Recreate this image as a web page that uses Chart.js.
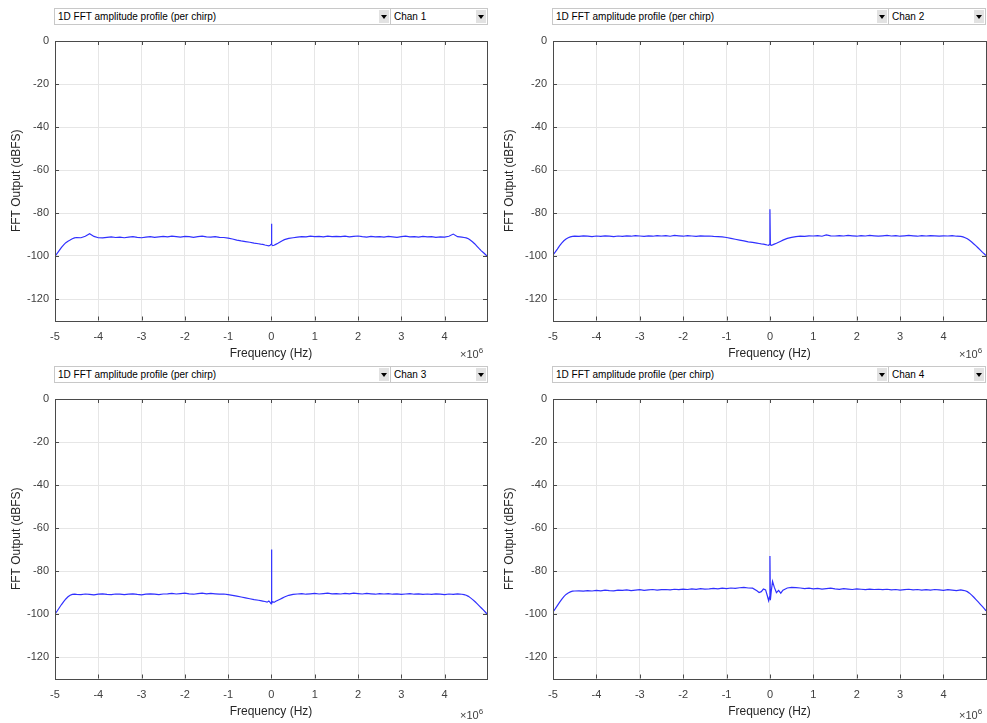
<!DOCTYPE html>
<html>
<head>
<meta charset="utf-8">
<script src="https://cdn.jsdelivr.net/npm/chart.js@4.4.1/dist/chart.umd.min.js"></script>
<style>
  body { margin: 0; background: #fff; font-family: "Liberation Sans", Arial, sans-serif; }
  #page { position: relative; width: 987px; height: 723px; overflow: hidden; }
  canvas { position: absolute; }
  .hdr { position: absolute; width: 434px; height: 17px; font-size: 10px; color: #000; }
  .sel { position: absolute; top: 0; height: 17px; border: 1px solid #c8c8c8; background: #fff;
         box-sizing: border-box; line-height: 15px; padding-left: 3px; white-space: nowrap; }
  .btn { position: absolute; top: 1px; right: 1px; width: 10px; height: 13px; background: #e2e2e2; }
  .btn:after { content: ""; position: absolute; left: 2px; top: 5px; border-left: 3px solid transparent;
               border-right: 3px solid transparent; border-top: 4px solid #000; }
  .exp { position: absolute; font-size: 11px; color: #404040; }
  .exp sup { font-size: 8px; }
</style>
</head>
<body>
<div id="page"></div>
<script>
// frequency bins, in units of 10^6 Hz
const freq = [
  -5.00, -4.95, -4.90, -4.85, -4.80, -4.75, -4.70, -4.65, -4.60, -4.55, -4.50,
  -4.40, -4.30, -4.20, -4.10, -4.00, -3.90, -3.80, -3.70, -3.60, -3.50,
  -3.40, -3.30, -3.20, -3.10, -3.00, -2.90, -2.80, -2.70, -2.60, -2.50,
  -2.40, -2.30, -2.20, -2.10, -2.00, -1.90, -1.80, -1.70, -1.60, -1.50,
  -1.40, -1.30, -1.20, -1.10, -1.00, -0.90, -0.80, -0.70, -0.60, -0.50,
  -0.40, -0.30, -0.25, -0.20, -0.15, -0.10, -0.06, -0.03, -0.01, 0.00,
  0.01, 0.03, 0.06, 0.10, 0.15, 0.20, 0.25, 0.30, 0.40, 0.50,
  0.60, 0.70, 0.80, 0.90, 1.00, 1.10, 1.20, 1.30, 1.40, 1.50,
  1.60, 1.70, 1.80, 1.90, 2.00, 2.10, 2.20, 2.30, 2.40, 2.50,
  2.60, 2.70, 2.80, 2.90, 3.00, 3.10, 3.20, 3.30, 3.40, 3.50,
  3.60, 3.70, 3.80, 3.90, 4.00, 4.10, 4.20, 4.30, 4.40,
  4.45, 4.50, 4.55, 4.60, 4.65, 4.70, 4.75, 4.80, 4.85, 4.90, 4.95, 4.98
];

// FFT output (dBFS) per channel
const chan1 = [
  -100.0, -98.8, -97.4, -96.0, -94.8, -93.8, -93.1, -92.6, -92.0, -91.6, -91.4,
  -91.5, -90.8, -89.6, -90.9, -91.5, -91.6, -91.3, -91.1, -91.4, -91.2,
  -91.5, -91.2, -91.0, -91.3, -91.5, -91.2, -91.0, -91.3, -91.1, -90.9,
  -91.1, -90.8, -91.0, -91.2, -90.9, -91.0, -91.3, -91.0, -90.8, -91.1,
  -91.2, -91.0, -91.3, -91.4, -91.7, -92.1, -92.6, -93.0, -93.3, -93.6,
  -94.0, -94.3, -94.5, -94.6, -94.9, -95.1, -95.3, -95.0, -94.6, -85.0,
  -94.7, -95.2, -95.0, -94.6, -94.1, -93.5, -92.9, -92.4, -91.8, -91.5,
  -91.2, -91.0, -91.1, -90.8, -91.0, -90.9, -91.1, -90.8, -91.0, -90.9,
  -91.0, -90.8, -91.1, -90.9, -90.7, -91.0, -91.2, -90.9, -91.1, -91.0,
  -91.2, -90.9, -91.1, -91.3, -91.0, -90.8, -91.1, -91.0, -91.2, -90.9,
  -91.1, -91.0, -91.3, -91.1, -91.2, -90.8, -89.8, -91.0, -91.2,
  -91.4, -91.6, -92.0, -92.7, -93.5, -94.4, -95.5, -96.6, -97.6, -98.5, -99.4, -100.0
];
const chan2 = [
  -99.5, -98.2, -96.8, -95.3, -94.0, -92.9, -92.1, -91.5, -91.1, -90.9, -90.8,
  -90.9, -90.6, -90.8, -91.0, -90.7, -90.9, -90.6, -90.8, -91.0, -90.7,
  -90.9, -90.6, -90.8, -90.5, -90.7, -90.9, -90.6, -90.8, -90.5, -90.7,
  -90.5, -90.8, -90.4, -90.6, -90.8, -90.5, -90.7, -90.9, -90.6, -90.8,
  -90.7, -90.9, -91.0, -91.1, -91.4, -91.8, -92.2, -92.6, -93.0, -93.4,
  -93.7, -94.0, -94.2, -94.4, -94.5, -94.7, -94.9, -95.0, -94.6, -78.3,
  -94.8, -95.0, -94.8, -94.5, -94.1, -93.6, -93.1, -92.6, -91.8, -91.3,
  -91.0, -90.8, -90.9, -90.6, -90.7, -90.5, -90.8, -90.2, -90.6, -90.7,
  -90.5, -90.7, -90.4, -90.6, -90.8, -90.5, -90.7, -90.4, -90.6, -90.8,
  -90.6, -90.4, -90.7, -90.5, -90.8, -90.6, -90.4, -90.6, -90.8, -90.5,
  -90.7, -90.5, -90.6, -90.8, -90.6, -90.7, -90.5, -90.8, -90.9,
  -91.1, -91.5, -92.0, -92.7, -93.5, -94.4, -95.3, -96.3, -97.3, -98.3, -99.2, -99.8
];
const chan3 = [
  -100.0, -98.6, -97.1, -95.6, -94.2, -93.0, -92.0, -91.3, -90.9, -90.8, -90.9,
  -91.0, -90.7, -90.9, -91.1, -90.8, -90.6, -90.9, -91.0, -90.7, -90.8,
  -91.0, -90.8, -90.6, -90.9, -91.1, -90.8, -90.6, -90.8, -91.0, -90.7,
  -90.6, -90.4, -90.7, -90.5, -90.3, -90.6, -90.8, -90.5, -90.3, -90.6,
  -90.4, -90.6, -90.8, -90.7, -91.0, -91.3, -91.7, -92.1, -92.5, -92.9,
  -93.3, -93.6, -93.8, -94.0, -94.2, -94.5, -94.0, -94.6, -95.2, -70.0,
  -95.0, -94.3, -94.6, -94.1, -93.6, -93.1, -92.6, -92.1, -91.3, -90.9,
  -90.7, -90.5, -90.8, -90.6, -90.4, -90.7, -90.5, -90.3, -90.6, -90.5,
  -90.7, -90.4, -90.6, -90.3, -90.5, -90.7, -90.4, -90.6, -90.8, -90.5,
  -90.7, -90.5, -90.8, -90.6, -90.9, -90.7, -90.5, -90.8, -90.6, -90.9,
  -90.7, -90.9, -90.6, -90.8, -91.0, -90.7, -90.9, -90.6, -90.8,
  -91.0, -91.3, -91.8, -92.5, -93.3, -94.2, -95.2, -96.2, -97.2, -98.2, -99.3, -100.0
];
const chan4 = [
  -99.0, -97.6, -96.1, -94.6, -93.2, -91.9, -90.9, -90.2, -89.7, -89.4, -89.3,
  -89.2, -89.4, -89.1, -89.3, -89.0, -89.2, -88.9, -89.1, -89.2, -88.9,
  -89.0, -88.8, -89.1, -88.9, -88.7, -89.0, -88.8, -88.6, -88.9, -88.7,
  -88.6, -88.8, -88.5, -88.7, -88.4, -88.6, -88.3, -88.5, -88.2, -88.4,
  -88.3, -88.1, -88.3, -88.0, -88.2, -87.9, -88.1, -87.8, -87.6, -87.9,
  -88.0, -89.2, -90.0, -89.6, -88.4, -88.8, -91.5, -93.8, -92.0, -73.0,
  -93.6, -89.5, -84.8, -87.5, -90.1, -89.0, -90.3, -88.9, -87.9, -87.6,
  -87.7, -87.9, -88.2, -88.0, -88.3, -88.1, -88.4, -88.2, -88.0, -88.3,
  -88.5, -88.2, -88.4, -88.6, -88.3, -88.5, -88.7, -88.4, -88.6, -88.5,
  -88.7, -88.5, -88.8, -88.6, -88.9, -88.7, -88.5, -88.8, -88.6, -88.9,
  -88.7, -88.9, -88.6, -88.8, -89.0, -88.7, -88.9, -89.1, -88.8,
  -89.0, -89.2, -89.6, -90.3, -91.2, -92.2, -93.3, -94.4, -95.5, -96.6, -97.7, -98.5
];

const xTicks = [-5, -4, -3, -2, -1, 0, 1, 2, 3, 4];
const yTicks = [-120, -100, -80, -60, -40, -20, 0];
const chanNames = ['Chan 1', 'Chan 2', 'Chan 3', 'Chan 4'];
const viewName = '1D FFT amplitude profile (per chirp)';

const axisCol = '#4a4a4a';
const gridCol = '#e6e6e6';
const lineCol = '#3030ff';

// MATLAB-like box with inward ticks on all four sides
const boxPlugin = {
  id: 'box',
  afterDatasetsDraw(chart) {
    const { ctx, chartArea: a, scales } = chart;
    ctx.save();
    ctx.strokeStyle = axisCol;
    ctx.lineWidth = 1;
    ctx.beginPath();
    xTicks.forEach(v => {
      const p = Math.round(scales.x.getPixelForValue(v)) + 0.5;
      ctx.moveTo(p, a.bottom); ctx.lineTo(p, a.bottom - 4);
      ctx.moveTo(p, a.top); ctx.lineTo(p, a.top + 4);
    });
    yTicks.forEach(v => {
      const p = Math.round(scales.y.getPixelForValue(v)) + 0.5;
      ctx.moveTo(a.left, p); ctx.lineTo(a.left + 4, p);
      ctx.moveTo(a.right, p); ctx.lineTo(a.right - 4, p);
    });
    ctx.stroke();
    ctx.strokeRect(Math.round(a.left) + 0.5, Math.round(a.top) + 0.5,
                   Math.round(a.right - a.left), Math.round(a.bottom - a.top));
    ctx.restore();
  }
};

const panels = [
  { data: chan1, left: 0,   top: 0,   w: 493, h: 362, pad: { left: 0, top: 41, right: 6, bottom: 0 }, yW: 55, xH: 41.5, ttlPad: 1 },
  { data: chan2, left: 493, top: 0,   w: 494, h: 362, pad: { left: 0, top: 41, right: 1, bottom: 0 }, yW: 60, xH: 41.5, ttlPad: 1 },
  { data: chan3, left: 0,   top: 362, w: 493, h: 361, pad: { left: 0, top: 37, right: 6, bottom: 0 }, yW: 55, xH: 44.5, ttlPad: 4 },
  { data: chan4, left: 493, top: 362, w: 494, h: 361, pad: { left: 0, top: 37, right: 1, bottom: 0 }, yW: 60, xH: 44.5, ttlPad: 4 }
];

const page = document.getElementById('page');

panels.forEach((p, i) => {
  const cv = document.createElement('canvas');
  cv.width = p.w; cv.height = p.h;
  cv.style.left = p.left + 'px'; cv.style.top = p.top + 'px';
  page.appendChild(cv);

  // header dropdowns
  const plotLeft = p.left + p.yW;
  const hdr = document.createElement('div');
  hdr.className = 'hdr';
  hdr.style.left = (plotLeft - 1) + 'px';
  hdr.style.top = (p.top + p.pad.top - 33) + 'px';
  hdr.innerHTML =
    '<div class="sel" style="left:0;width:337px">' + viewName + '<div class="btn"></div></div>' +
    '<div class="sel" style="left:336px;width:98px">' + chanNames[i] + '<div class="btn"></div></div>';
  page.appendChild(hdr);

  // x10^6 exponent label
  const ex = document.createElement('div');
  ex.className = 'exp';
  ex.innerHTML = '\u00d710<sup>6</sup>';
  ex.style.left = (p.left + p.w - p.pad.right - 27) + 'px';
  ex.style.top = (p.top + p.h - 16) + 'px';
  page.appendChild(ex);

  new Chart(cv.getContext('2d'), {
    type: 'line',
    data: {
      datasets: [{
        data: freq.map((f, k) => ({ x: f, y: p.data[k] })),
        borderColor: lineCol,
        borderWidth: 1.2,
        pointRadius: 0,
        tension: 0
      }]
    },
    options: {
      responsive: false,
      animation: false,
      devicePixelRatio: 1,
      layout: { padding: p.pad },
      plugins: { legend: { display: false }, tooltip: { enabled: false } },
      scales: {
        x: {
          type: 'linear',
          min: -5, max: 4.98,
          afterBuildTicks: s => { s.ticks = xTicks.map(v => ({ value: v })); },
          afterFit: s => { s.height = p.xH; },
          grid: { color: gridCol, drawTicks: false },
          border: { display: false },
          ticks: { color: '#404040', font: { family: 'Liberation Sans', size: 11 }, padding: 10,
                   maxRotation: 0, callback: v => String(v) },
          title: { display: true, text: 'Frequency (Hz)', color: '#262626',
                   font: { family: 'Liberation Sans', size: 12 }, padding: { top: 0, bottom: p.ttlPad } }
        },
        y: {
          type: 'linear',
          min: -130, max: 0,
          afterBuildTicks: s => { s.ticks = yTicks.map(v => ({ value: v })); },
          afterFit: s => { s.width = p.yW; },
          grid: { color: gridCol, drawTicks: false },
          border: { display: false },
          ticks: { color: '#404040', font: { family: 'Liberation Sans', size: 11 }, padding: 6,
                   callback: v => String(v) },
          title: { display: true, text: 'FFT Output (dBFS)', color: '#262626',
                   font: { family: 'Liberation Sans', size: 12 }, padding: { top: 9, bottom: 0 } }
        }
      }
    },
    plugins: [boxPlugin]
  });
});
</script>
</body>
</html>
